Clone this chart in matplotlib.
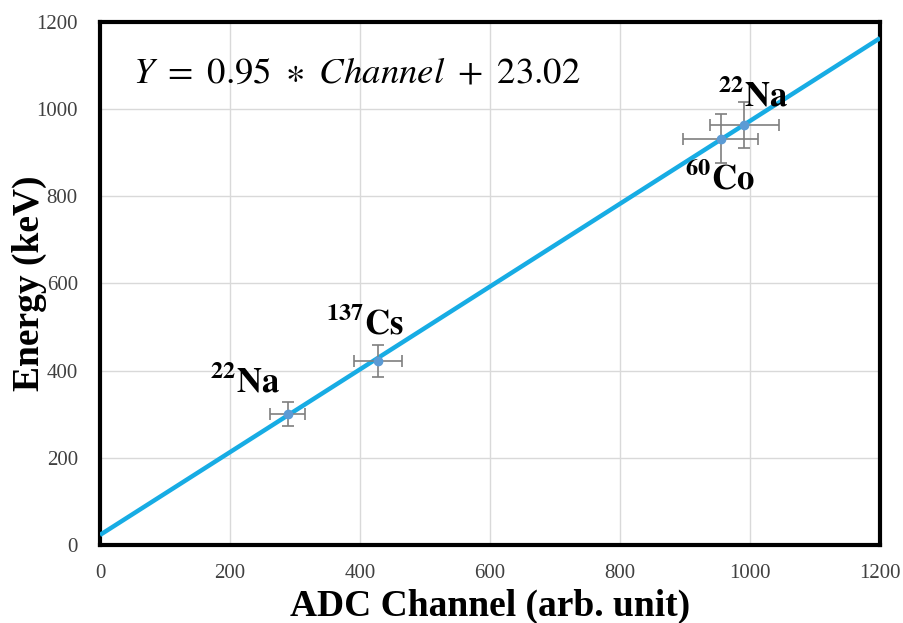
import matplotlib
matplotlib.use('Agg')
import matplotlib.pyplot as plt
import numpy as np

# calibration points
sources = [r'$\mathbf{^{22}Na}$', r'$\mathbf{^{137}Cs}$', r'$\mathbf{^{60}Co}$', r'$\mathbf{^{22}Na}$']
channel = [289, 428, 955, 991]
channel_err = [27, 37, 58, 53]
energy = [301, 422, 932, 964]
energy_err = [28, 37, 56, 52]
label_pos = [(223, 372), (408, 505), (954, 838), (1005, 1028)]  # text anchors in data units

slope, intercept = 0.95, 23.02
xticks = [0, 200, 400, 600, 800, 1000, 1200]
yticks = [0, 200, 400, 600, 800, 1000, 1200]

plt.rcParams['font.family'] = ['Liberation Serif', 'DejaVu Serif']
plt.rcParams['mathtext.fontset'] = 'stix'

fig = plt.figure(figsize=(9.04, 6.23), dpi=100)
ax = fig.add_axes([0.1106, 0.1252, 0.8629, 0.8395])

# fit line
xs = np.array([0, 1200])
ax.plot(xs, slope * xs + intercept, color='#17ace4', linewidth=3.2, zorder=3, solid_capstyle='butt')

# data points with error bars
ax.errorbar(channel, energy, xerr=channel_err, yerr=energy_err, fmt='o', color='#5b9bd5',
            markersize=6, ecolor='#7f7f7f', elinewidth=1.2, capsize=4, capthick=1.2, zorder=4)

for name, (lx, ly) in zip(sources, label_pos):
    ax.text(lx, ly, name, fontsize=25, ha='center', va='center', color='black', zorder=5)

ax.text(51, 1083, r'$Y\ =\ 0.95\ \ast\ Channel\ +\ 23.02$', fontsize=26.5, ha='left', va='center')

ax.set_xlim(0, 1200)
ax.set_ylim(0, 1200)
ax.set_xticks(xticks)
ax.set_yticks(yticks)
ax.tick_params(length=0, labelsize=15, colors='#404040')
ax.tick_params(axis='x', pad=14)
ax.tick_params(axis='y', pad=16)
ax.grid(True, color='#d9d9d9', linewidth=1)
ax.set_axisbelow(True)
for s in ax.spines.values():
    s.set_linewidth(3)
    s.set_color('black')

ax.set_xlabel('ADC Channel (arb. unit)', fontsize=27, fontweight='bold', va='center')
ax.set_ylabel('Energy (keV)', fontsize=27, fontweight='bold', va='center')
ax.xaxis.set_label_coords(0.5, -0.117)
ax.yaxis.set_label_coords(-0.09, 0.5)

fig.savefig('out.png', dpi=100)
